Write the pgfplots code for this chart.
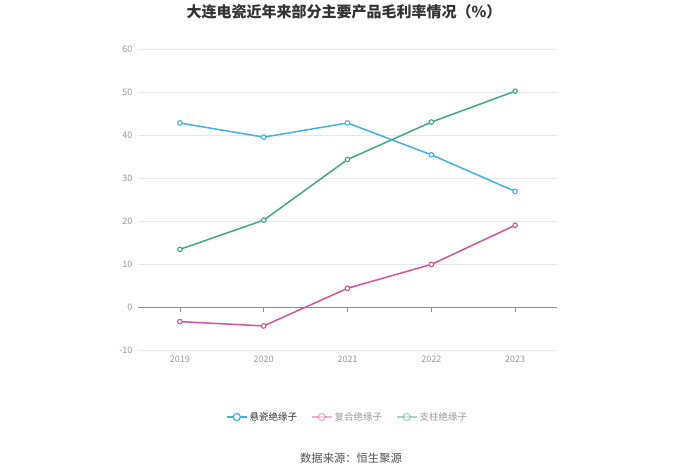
\documentclass[border=0pt]{standalone}
\usepackage{pgfplots}
\pgfplotsset{compat=1.18}
\usepackage{fontspec}
\setmainfont{Noto Sans CJK SC}
\definecolor{cblue}{HTML}{3DB2E8}
\definecolor{cpink}{HTML}{D4539E}
\definecolor{cgreen}{HTML}{40A887}
\definecolor{tickgray}{HTML}{999999}
\definecolor{zerogray}{HTML}{8C8C8C}
\definecolor{gridgray}{HTML}{E6E7EC}
\definecolor{titlegray}{HTML}{333333}
\begin{document}
\begin{tikzpicture}[x=1pt,y=1pt]
\useasboundingbox (0,0) rectangle (700,474);
\node[font=\fontsize{15}{17}\selectfont\bfseries, text=titlegray] at (344,462) {大连电瓷近年来部分主要产品毛利率情况（\%）};
\node[font=\fontsize{11.3}{13}\selectfont, text=titlegray!85] at (351,16) {数据来源：恒生聚源};
\begin{axis}[
  at={(138pt,124pt)}, anchor=south west,
  scale only axis, width=419pt, height=301pt,
  xmin=-0.5, xmax=4.5, ymin=-10, ymax=60,
  xtick={0,1,2,3,4}, xticklabels={2019,2020,2021,2022,2023},
  ytick={-10,0,10,20,30,40,50,60},
  /pgf/number format/assume math mode=true,
  tick label style={font=\fontsize{9}{10}\selectfont, text=tickgray},
  axis line style={draw=none},
  ymajorgrids, grid style={gridgray, line width=0.8pt},
  major tick length=0pt,
  yticklabel style={xshift=-2pt},
  xticklabel style={yshift=-2pt},
  legend columns=3,
  legend style={at={(0.5,-0.2226)}, anchor=center, draw=none, fill=none,
    font=\fontsize{9.5}{11}\selectfont, /tikz/every even column/.append style={column sep=12pt}},
  legend image code/.code={\draw[#1, line width=1.5pt] (0pt,0pt) -- (20pt,0pt);
     \draw[#1, fill=white, line width=1.2pt] (10pt,0pt) circle (3.6pt);},
  clip=false,
]
\draw[zerogray, line width=0.9pt] (axis cs:-0.5,0) -- (axis cs:4.5,0);
\pgfplotsinvokeforeach{0,1,2,3,4}{\draw[zerogray, line width=0.8pt] (axis cs:#1,0) -- ([yshift=-4.5pt]axis cs:#1,0);}
\addplot[cblue, line width=1.5pt, mark=*, mark size=2.3pt, mark options={fill=white, line width=1.1pt}] coordinates {(0,42.8)(1,39.5)(2,42.8)(3,35.4)(4,26.9)};
\addlegendentry{\textcolor{titlegray}{悬瓷绝缘子}}
\addplot[cpink, line width=1.5pt, mark=*, mark size=2.3pt, mark options={fill=white, line width=1.1pt}, legend image post style={opacity=0.45}] coordinates {(0,-3.4)(1,-4.4)(2,4.35)(3,9.9)(4,19.0)};
\addlegendentry{\textcolor{tickgray}{复合绝缘子}}
\addplot[cgreen, line width=1.5pt, mark=*, mark size=2.3pt, mark options={fill=white, line width=1.1pt}, legend image post style={opacity=0.45}] coordinates {(0,13.4)(1,20.2)(2,34.3)(3,43.0)(4,50.2)};
\addlegendentry{\textcolor{tickgray}{支柱绝缘子}}
\end{axis}
\end{tikzpicture}
\end{document}
